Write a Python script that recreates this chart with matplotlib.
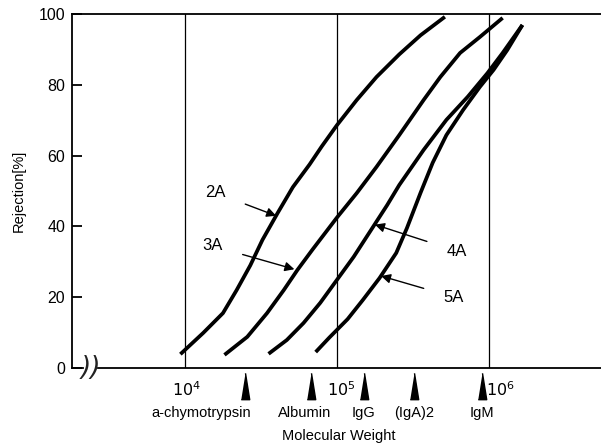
import numpy as np
import matplotlib
matplotlib.use("Agg")
import matplotlib.pyplot as plt
import matplotlib.transforms as mtransforms

plt.rcParams['font.family'] = ['Liberation Sans', 'DejaVu Sans']

# rejection curves: log10(molecular weight) vs rejection [%]
logmw_2a = [3.97, 4.12, 4.25, 4.34, 4.43, 4.51, 4.61, 4.71, 4.82, 4.90,
            5.00, 5.13, 5.26, 5.41, 5.55, 5.71]
rej_2a = [3.9, 9.9, 15.5, 22.0, 29.0, 36.2, 43.8, 51.1, 57.5, 62.6,
          68.6, 75.7, 82.2, 88.6, 94.0, 99.2]

logmw_3a = [4.26, 4.41, 4.54, 4.65, 4.74, 4.84, 5.00, 5.13, 5.26, 5.41,
            5.57, 5.68, 5.81, 5.94, 6.09]
rej_3a = [3.7, 8.8, 15.5, 22.0, 27.7, 33.5, 42.5, 49.4, 56.8, 65.8,
          75.7, 82.2, 89.0, 93.5, 98.9]

logmw_4a = [4.55, 4.67, 4.78, 4.89, 5.00, 5.11, 5.22, 5.33, 5.41, 5.57,
            5.72, 5.86, 5.99, 6.09, 6.22]
rej_4a = [4.0, 7.9, 12.7, 18.4, 24.9, 31.4, 38.7, 46.0, 51.7, 61.6,
          70.1, 76.6, 83.3, 89.0, 96.9]

logmw_5a = [4.86, 4.95, 5.07, 5.17, 5.28, 5.39, 5.46, 5.55, 5.63, 5.72,
            5.83, 5.94, 6.03, 6.12, 6.22]
rej_5a = [4.5, 8.6, 13.8, 19.2, 25.4, 32.5, 39.5, 49.5, 58.0, 65.8,
          72.9, 79.4, 84.2, 89.8, 96.9]

# marker proteins and their molecular weights
proteins = ['a-chymotrypsin', 'Albumin', 'IgG', '(IgA)2', 'IgM']
protein_mw = [25000, 67000, 150000, 320000, 900000]

curves = [('2A', logmw_2a, rej_2a), ('3A', logmw_3a, rej_3a),
          ('4A', logmw_4a, rej_4a), ('5A', logmw_5a, rej_5a)]

fig = plt.figure(figsize=(6.01, 4.47), dpi=100)
ax = fig.add_axes([72/601, 1 - 368/447, 1 - 72/601, 354/447])
ax.set_xscale('log')
ax.set_xlim(10**3.257, 10**6.737)
ax.set_ylim(0, 100)

for name, lx, ry in curves:
    ax.plot(10**np.array(lx), ry, color='black', lw=2.7,
            solid_capstyle='butt', solid_joinstyle='round')

# vertical decade lines
for xv in [1e4, 1e5, 1e6]:
    ax.axvline(xv, color='black', lw=0.9)

# spines
ax.spines['right'].set_visible(False)
ax.spines['bottom'].set_visible(False)
ax.spines['top'].set_linewidth(1.3)
ax.spines['left'].set_linewidth(1.3)

# broken x axis line
ax.plot([10**3.257, 10**3.33], [0, 0], color='black', lw=1.3, clip_on=False)
ax.plot([10**3.43, 10**6.737], [0, 0], color='black', lw=1.3, clip_on=False)
ax.text(10**3.38, 0, '))', fontsize=19, fontstyle='italic', family='DejaVu Sans',
        ha='center', va='center', color='#222222')

# y ticks
ax.set_yticks([0, 20, 40, 60, 80, 100])
ax.tick_params(axis='y', direction='in', length=7, width=1.3, labelsize=11.5, pad=5)
ax.set_ylabel('Rejection[%]', fontsize=10.5, labelpad=9)

# x ticks: decade labels only
ax.set_xticks([1e4, 1e5, 1e6])
ax.set_xticklabels(['$10^4$', '$10^5$', '$10^6$'])
ax.minorticks_off()
ax.tick_params(axis='x', length=0, labelsize=11.5, pad=9)
shifts = [2, 4, 11]
for lab, s in zip(ax.get_xticklabels(), shifts):
    lab.set_transform(lab.get_transform() +
                      mtransforms.ScaledTranslation(s/100, 0, fig.dpi_scale_trans))

# protein markers (tall triangles below axis)
tri = [(-0.16, -0.5), (0.16, -0.5), (0.0, 0.5)]
ax.plot(protein_mw, [-5.2]*len(protein_mw), linestyle='none', marker=tri,
        markersize=19, color='black', clip_on=False)
label_shift = [-0.29, -0.04, 0.0, 0.0, 0.0]
for name, mw, sh in zip(proteins, protein_mw, label_shift):
    ax.text(mw * 10**sh, -10.8, name, fontsize=10.5, ha='center', va='top')
ax.text(10**5.01, -17.2, 'Molecular Weight', fontsize=10.5, ha='center', va='top')

# curve annotations
ann = [('2A', (10**4.2, 49.5), (10**4.6, 43.0)),
       ('3A', (10**4.18, 34.5), (10**4.72, 27.9)),
       ('4A', (10**5.79, 33.0), (10**5.25, 40.5)),
       ('5A', (10**5.77, 20.0), (10**5.29, 26.0))]
for text, xyt, xy in ann:
    ax.annotate(text, xy=xy, xytext=xyt, fontsize=12, ha='center', va='center',
                arrowprops=dict(arrowstyle='-|>', color='black', lw=1.0,
                                mutation_scale=14, shrinkA=13, shrinkB=0))

fig.savefig('out.png', dpi=100)
